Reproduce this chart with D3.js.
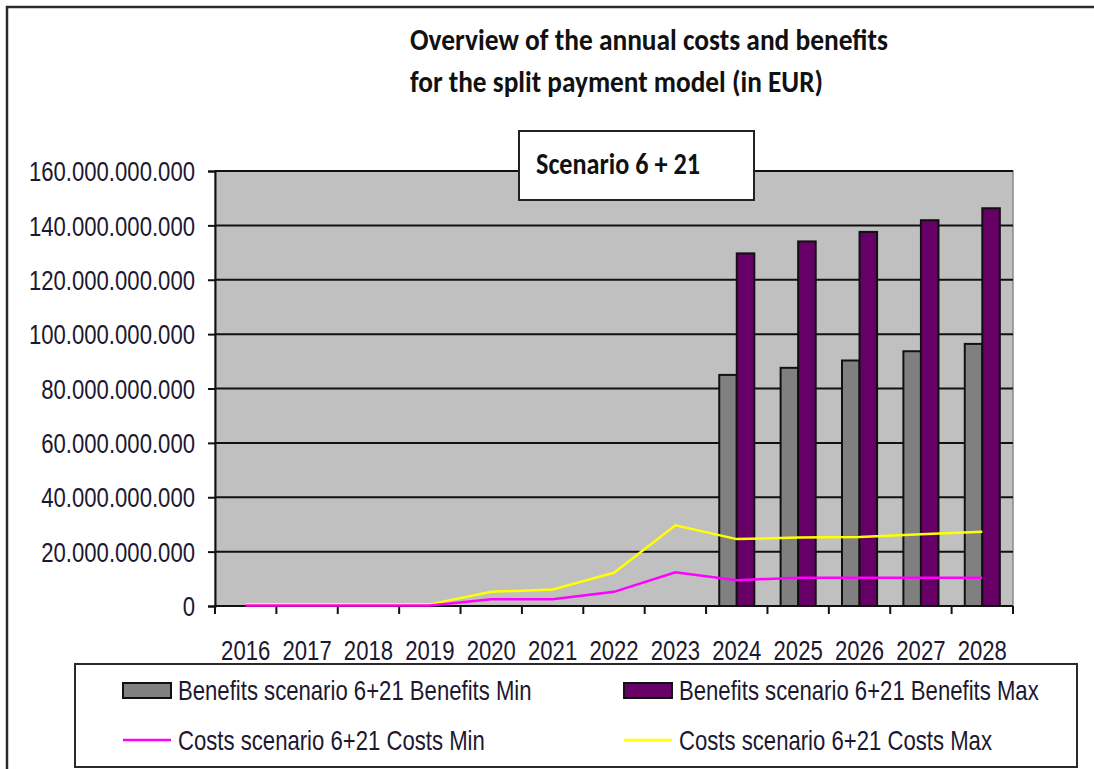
<!DOCTYPE html>
<html>
<head>
<meta charset="utf-8">
<title>Split payment model - costs and benefits</title>
<script src="https://cdnjs.cloudflare.com/ajax/libs/d3/7.8.5/d3.min.js"></script>
<style>
    html, body { margin: 0; padding: 0; background: #fff; }
    svg { display: block; }
    .lbl { font-family: "Liberation Sans", Arial, sans-serif; font-size: 27px; fill: #1c1830; }
    .ttl { font-family: Carlito, Lato, "Open Sans", sans-serif; font-size: 31px; font-weight: bold; fill: #111; }
</style>
</head>
<body>
<script>
// data (EUR)
var years = ["2016", "2017", "2018", "2019", "2020", "2021", "2022", "2023", "2024", "2025", "2026", "2027", "2028"];
var benefitsMin = [null, null, null, null, null, null, null, null, 85.0e9, 87.6e9, 90.3e9, 93.7e9, 96.4e9];
var benefitsMax = [null, null, null, null, null, null, null, null, 129.7e9, 134.1e9, 137.6e9, 141.9e9, 146.3e9];
var costsMin = [0.2e9, 0.2e9, 0.2e9, 0.2e9, 2.5e9, 2.5e9, 5.2e9, 12.4e9, 9.5e9, 10.4e9, 10.4e9, 10.4e9, 10.4e9];
var costsMax = [0.6e9, 0.6e9, 0.6e9, 0.6e9, 5.2e9, 6.1e9, 12.2e9, 29.7e9, 24.6e9, 25.2e9, 25.4e9, 26.4e9, 27.3e9];
var yTicks = [0, 20e9, 40e9, 60e9, 80e9, 100e9, 120e9, 140e9, 160e9];
var titleLines = ["Overview of the annual costs and benefits", "for the split payment model (in EUR)"];
var subtitle = "Scenario 6 + 21";
var legendItems = [
    {name: "Benefits scenario 6+21 Benefits Min", type: "bar", color: "#808080"},
    {name: "Benefits scenario 6+21 Benefits Max", type: "bar", color: "#660066"},
    {name: "Costs scenario 6+21 Costs Min", type: "line", color: "#ff00ff"},
    {name: "Costs scenario 6+21 Costs Max", type: "line", color: "#ffff00"}
];

var W = 1094, H = 769;
var plot = {left: 215, right: 1013, top: 171, bottom: 606};
var narrow = 0.82;

var svg = d3.select("body").append("svg").attr("width", W).attr("height", H);

// outer frame (only top and left visible)
svg.append("path").attr("d", "M7,769 V7 H1094")
    .attr("fill", "none").attr("stroke", "#2a2a2a").attr("stroke-width", 2.5);

function narrowText(g, x, y, txt, anchor) {
    return g.append("text").attr("class", "lbl")
        .attr("transform", "translate(" + x + "," + y + ") scale(" + narrow + ",1)")
        .attr("text-anchor", anchor || "start")
        .text(txt);
}

var x = d3.scaleBand().domain(years).range([plot.left, plot.right]).padding(0);
var x1 = d3.scaleBand().domain(["min", "max"]).range([0, x.bandwidth()]).paddingInner(0).paddingOuter(0.75);
var y = d3.scaleLinear().domain([0, 160e9]).range([plot.bottom, plot.top]);

// plot background
svg.append("rect").attr("x", plot.left).attr("y", plot.top)
    .attr("width", plot.right - plot.left).attr("height", plot.bottom - plot.top)
    .attr("fill", "#c0c0c0").attr("stroke", "#8a8a8a").attr("stroke-width", 1.5);

// gridlines
svg.append("g").selectAll("line").data(yTicks.filter(function(d) { return d > 0; }))
    .enter().append("line")
    .attr("x1", plot.left).attr("x2", plot.right)
    .attr("y1", function(d) { return y(d); }).attr("y2", function(d) { return y(d); })
    .attr("stroke", "#111").attr("stroke-width", 2);

// y axis
var fmt = d3.formatLocale({decimal: ",", thousands: ".", grouping: [3], currency: ["", ""]}).format(",d");
var yAxis = svg.append("g").attr("transform", "translate(" + plot.left + ",0)")
    .call(d3.axisLeft(y).tickValues(yTicks).tickFormat(fmt).tickSize(7).tickPadding(13));
yAxis.select(".domain").attr("stroke", "#111").attr("stroke-width", 2);
yAxis.selectAll(".tick line").attr("stroke", "#111").attr("stroke-width", 2);
yAxis.selectAll(".tick text")
    .attr("class", "lbl").attr("font-family", null).attr("font-size", null).attr("fill", null)
    .attr("dy", "0.36em")
    .attr("x", -20 / narrow)
    .attr("transform", "scale(" + narrow + ",1)");

// x axis
var xAxisG = svg.append("g");
xAxisG.append("line").attr("x1", plot.left).attr("x2", plot.right)
    .attr("y1", plot.bottom).attr("y2", plot.bottom)
    .attr("stroke", "#111").attr("stroke-width", 2);
xAxisG.selectAll(".xt").data(years.concat(["end"])).enter().append("line")
    .attr("x1", function(d) { return d === "end" ? plot.right : x(d); })
    .attr("x2", function(d) { return d === "end" ? plot.right : x(d); })
    .attr("y1", plot.bottom).attr("y2", plot.bottom + 8)
    .attr("stroke", "#111").attr("stroke-width", 2);
years.forEach(function(yr) {
    narrowText(xAxisG, x(yr) + x.bandwidth() / 2, 660, yr, "middle");
});

// bars
var barData = [];
years.forEach(function(yr, i) {
    if (benefitsMin[i] != null) barData.push({year: yr, key: "min", v: benefitsMin[i], c: legendItems[0].color});
    if (benefitsMax[i] != null) barData.push({year: yr, key: "max", v: benefitsMax[i], c: legendItems[1].color});
});
svg.append("g").selectAll("rect").data(barData).enter().append("rect")
    .attr("x", function(d) { return x(d.year) + x1(d.key); })
    .attr("y", function(d) { return y(d.v); })
    .attr("width", x1.bandwidth())
    .attr("height", function(d) { return y(0) - y(d.v); })
    .attr("fill", function(d) { return d.c; })
    .attr("stroke", "#111").attr("stroke-width", 2);

// cost lines
var line = d3.line()
    .x(function(d, i) { return x(years[i]) + x.bandwidth() / 2; })
    .y(function(d) { return y(d); });
svg.append("path").attr("d", line(costsMax))
    .attr("fill", "none").attr("stroke", legendItems[3].color).attr("stroke-width", 2.5);
svg.append("path").attr("d", line(costsMin))
    .attr("fill", "none").attr("stroke", legendItems[2].color).attr("stroke-width", 2.5);

// title
svg.append("text").attr("class", "ttl").attr("x", 410).attr("y", 50)
    .attr("textLength", 478).attr("lengthAdjust", "spacingAndGlyphs").text(titleLines[0]);
svg.append("text").attr("class", "ttl").attr("x", 410).attr("y", 92)
    .attr("textLength", 413).attr("lengthAdjust", "spacingAndGlyphs").text(titleLines[1]);

// scenario box
svg.append("rect").attr("x", 519).attr("y", 131).attr("width", 235).attr("height", 69)
    .attr("fill", "#fff").attr("stroke", "#222").attr("stroke-width", 2);
svg.append("text").attr("class", "ttl").attr("x", 536).attr("y", 174)
    .attr("textLength", 164).attr("lengthAdjust", "spacingAndGlyphs").text(subtitle);

// legend
var lg = svg.append("g");
lg.append("rect").attr("x", 75).attr("y", 664).attr("width", 1002).attr("height", 103)
    .attr("fill", "#fff").attr("stroke", "#2a2a2a").attr("stroke-width", 2);
legendItems.forEach(function(d, i) {
    var cx = i % 2 === 0 ? 123 : 624;
    var cy = i < 2 ? 690 : 740;
    if (d.type === "bar") {
        lg.append("rect").attr("x", cx).attr("y", cy - 7).attr("width", 48).attr("height", 15)
            .attr("fill", d.color).attr("stroke", "#111").attr("stroke-width", 2);
    } else {
        lg.append("line").attr("x1", cx).attr("x2", cx + 48).attr("y1", cy).attr("y2", cy)
            .attr("stroke", d.color).attr("stroke-width", 2.5);
    }
    narrowText(lg, cx + 55, cy + 9.5, d.name);
});
</script>
</body>
</html>
